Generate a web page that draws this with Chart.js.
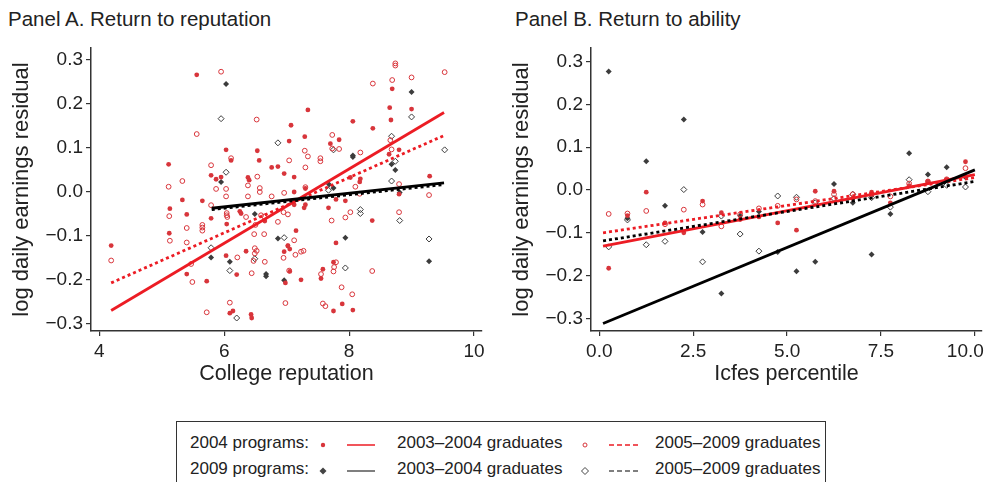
<!DOCTYPE html>
<html>
<head>
<meta charset="utf-8">
<script src="https://cdn.jsdelivr.net/npm/chart.js@4.4.0/dist/chart.umd.min.js"></script>
<style>
  body { margin:0; width:987px; height:482px; overflow:hidden; position:relative; background:#fff;
         font-family:"Liberation Sans", Arial, sans-serif; color:#222; }
  .ptitle { position:absolute; top:7px; font-size:20.5px; white-space:nowrap; }
  #boxA { position:absolute; left:0; top:0; width:493px; height:400px; }
  #boxB { position:absolute; left:500px; top:0; width:510px; height:400px; }
  #legend { position:absolute; left:176px; top:421px; width:650px; height:90px;
            border:1.5px solid #333; box-sizing:border-box; }
  .lg { position:absolute; font-size:17px; white-space:nowrap; line-height:20px; }
  .lgsym { position:absolute; }
</style>
</head>
<body>
<div class="ptitle" style="left:8px">Panel A. Return to reputation</div>
<div class="ptitle" style="left:515px">Panel B. Return to ability</div>
<div id="boxA"><canvas id="chartA"></canvas></div>
<div id="boxB"><canvas id="chartB"></canvas></div>
<div id="legend"></div>
<script>
// ---- Panel A: return to reputation ([college reputation, residual])
var repRed0304 = [[5.56,0.266],[7.04,0.115],[6.03,0.095],[6.53,0.093],[6.11,0.071],[6.56,0.071],[5.11,0.062],
  [6.76,0.055],[6.86,0.057],[6.96,0.041],[5.79,0.037],[5.87,0.028],[5.95,0.033],[6.38,0.032],[6.40,0.026],
  [5.65,-0.021],[5.33,-0.019],[5.13,-0.039],[5.40,-0.052],[6.25,-0.045],[6.27,-0.050],[6.65,-0.067],[5.79,-0.061],
  [6.04,-0.074],[5.12,-0.095],[4.19,-0.123],[6.03,-0.146],[6.20,-0.189],[6.35,-0.136],[6.96,-0.137],[7.02,-0.123],
  [5.40,-0.188],[5.72,-0.204],[6.09,-0.277],[6.14,-0.272],[6.43,-0.280],[6.44,-0.288],[7.89,-0.256],[7.75,-0.272],
  [8.06,-0.270],[7.34,0.186],[8.65,0.191],[9.00,0.188],[8.06,0.160],[8.67,0.163],[7.07,0.151],[8.38,0.144],
  [7.29,0.125],[7.84,0.118],[7.70,0.109],[8.69,0.234],[8.80,0.095],[8.64,0.085],[7.12,0.033],[9.29,0.035],
  [8.02,0.032],[8.18,0.029],[8.17,0.022],[7.12,-0.001],[7.30,0.007],[8.80,-0.006],[7.79,-0.018],[7.94,-0.021],
  [7.30,-0.030],[7.28,-0.037],[7.12,-0.030],[7.67,-0.037],[8.37,-0.066],[7.15,-0.089],[7.79,-0.117],[7.02,-0.124],
  [7.05,-0.131],[7.75,-0.161],[7.58,-0.177],[7.05,-0.182],[7.55,-0.198],[7.23,-0.201],[6.98,-0.208]];
var repRed0509 = [[5.95,0.273],[6.52,0.164],[5.56,0.131],[6.11,0.076],[7.04,0.071],[5.79,0.060],[5.33,0.024],
  [6.53,0.034],[5.11,0.011],[5.87,0.006],[6.03,0.006],[6.38,0.014],[6.57,0.008],[6.57,-0.001],[6.38,-0.011],
  [6.03,-0.011],[5.79,-0.031],[6.76,-0.011],[6.96,-0.003],[5.12,-0.056],[6.04,-0.049],[6.04,-0.054],[6.05,-0.058],
  [6.35,-0.058],[6.59,-0.054],[6.64,-0.057],[6.50,-0.076],[6.86,-0.069],[6.95,-0.047],[5.65,-0.076],[5.65,-0.082],
  [5.65,-0.089],[5.40,-0.083],[5.13,-0.112],[5.40,-0.116],[4.19,-0.157],[6.21,-0.150],[6.49,-0.129],[6.52,-0.135],
  [6.49,-0.141],[6.47,-0.158],[6.65,-0.160],[6.44,-0.186],[6.48,-0.097],[6.64,-0.097],[6.95,-0.151],[7.04,-0.180],
  [6.98,-0.254],[5.49,-0.206],[5.47,-0.165],[5.72,-0.275],[6.09,-0.253],[7.58,-0.255],[7.62,-0.261],[8.74,0.292],
  [8.74,0.287],[9.53,0.272],[9.00,0.260],[8.69,0.254],[8.38,0.246],[7.73,0.129],[8.66,0.117],[7.73,0.098],
  [7.84,0.097],[7.29,0.093],[7.34,0.080],[8.18,0.089],[8.68,0.096],[7.54,0.076],[7.54,0.069],[7.30,0.055],
  [8.10,0.011],[8.80,0.017],[7.30,0.010],[8.17,-0.005],[9.28,-0.008],[7.02,-0.052],[8.02,-0.047],[7.94,-0.059],
  [8.80,-0.047],[7.72,-0.066],[7.12,-0.111],[7.14,-0.144],[7.23,-0.137],[7.27,-0.135],[7.79,-0.161],[7.76,-0.172],
  [7.75,-0.182],[8.37,-0.181],[7.55,-0.188],[7.88,-0.218],[8.05,-0.234]];
var repBlk0304 = [[6.03,0.245],[5.95,0.022],[6.49,-0.051],[5.79,-0.150],[6.09,-0.160],[6.67,-0.188],[6.67,-0.193],
  [6.86,-0.107],[6.96,-0.202],[9.00,0.227],[8.06,0.082],[8.06,0.079],[8.68,0.062],[8.74,0.049],[7.68,0.016],
  [7.75,0.008],[8.81,-0.002],[7.94,-0.105],[9.28,-0.159]];
var repBlk0509 = [[5.95,0.166],[6.86,0.111],[6.03,0.044],[5.79,-0.128],[6.09,-0.180],[6.20,-0.288],[6.49,-0.153],
  [6.96,-0.105],[9.00,0.170],[8.68,0.126],[7.75,0.095],[9.53,0.095],[8.74,0.069],[8.68,0.024],[7.67,0.003],
  [8.18,-0.041],[8.18,-0.050],[8.81,-0.066],[9.28,-0.108],[7.94,-0.174]];
// fitted lines (start / end)
var repFitRed0304 = [[4.19,-0.271],[9.52,0.180]];
var repFitRed0509 = [[4.19,-0.208],[9.51,0.127]];
var repFitBlk0304 = [[5.80,-0.038],[9.52,0.020]];
var repFitBlk0509 = [[5.80,-0.041],[9.52,0.016]];
var repXTicks = [4, 6, 8, 10];
var repXLabels = ['4', '6', '8', '10'];

// ---- Panel B: return to ability (percentile bins)
var ablBins = [0.25,0.75,1.25,1.75,2.25,2.75,3.25,3.75,4.25,4.75,5.25,5.75,6.25,6.75,7.25,7.75,8.25,8.75,9.25,9.75];
var ablRed0304 = [-0.183,-0.060,-0.005,-0.077,-0.100,-0.026,-0.053,-0.069,-0.063,-0.077,-0.094,-0.003,-0.003,-0.020,-0.005,-0.030,0.010,0.020,0.025,0.066];
var ablRed0509 = [-0.056,-0.055,-0.049,-0.080,-0.046,-0.034,-0.085,-0.057,-0.043,-0.037,-0.022,-0.026,-0.010,-0.010,-0.010,-0.015,0.015,0.020,0.025,0.051];
var ablBlk0304 = [0.277,-0.066,0.067,-0.037,0.165,-0.098,-0.242,-0.060,-0.050,-0.145,-0.190,-0.168,0.014,-0.030,-0.151,-0.056,0.086,0.036,0.053,0.030];
var ablBlk0509 = [-0.133,-0.070,-0.128,-0.120,0.001,-0.168,-0.061,-0.103,-0.143,-0.014,-0.017,-0.030,-0.020,-0.010,-0.018,-0.040,0.024,-0.004,0.011,0.007];
var ablFitRed0304 = [[0.1,-0.131],[10.0,0.036]];
var ablFitRed0509 = [[0.1,-0.100],[10.0,0.029]];
var ablFitBlk0304 = [[0.1,-0.312],[10.0,0.047]];
var ablFitBlk0509 = [[0.1,-0.119],[10.0,0.020]];
var ablXTicks = [0, 2.5, 5, 7.5, 10];
var ablXLabels = ['0.0', '2.5', '5.0', '7.5', '10.0\u2002\u2002'];  // last label sits a bit left, as in the original

var yTicks = [-0.3, -0.2, -0.1, 0, 0.1, 0.2, 0.3];
var yLabels = ['\u22120.3', '\u22120.2', '\u22120.1', '0.0', '0.1', '0.2', '0.3'];

var RED = '#ec1c24', REDPT = '#d8353b', BLK = '#000', BLKPT = '#3c3c3c', TXT = '#222';
var FONT = '"Liberation Sans", Arial, sans-serif';

function pts(pairs) { return pairs.map(function(p){ return {x:p[0], y:p[1]}; }); }
function binPts(ys) { return ys.map(function(v,i){ return {x:ablBins[i], y:v}; }); }

function pointSet(data, style, filled, color, r) {
  return { type:'scatter', data:data, order:2, pointStyle:style, pointRadius:r, pointHoverRadius:r,
           backgroundColor: filled ? color : 'rgba(0,0,0,0)', borderColor:color,
           borderWidth: filled ? 0 : 1 };
}
function fitLine(data, color, dashed) {
  return { type:'line', data:data, order:1, borderColor:color, borderWidth:2.8, pointRadius:0,
           borderDash: dashed ? [3,3] : [], fill:false, tension:0 };
}

function makePanel(id, datasets, xr, xTicks, xLabels, xTitle, yr, padRight) {
  return new Chart(document.getElementById(id), {
    type:'scatter',
    data:{ datasets:datasets },
    options:{
      responsive:true, maintainAspectRatio:false, animation:false,
      layout:{ padding:{ left:0, top:48, right:padRight, bottom:0 } },
      plugins:{ legend:{display:false}, tooltip:{enabled:false} },
      scales:{
        x:{ type:'linear', min:xr[0], max:xr[1],
            afterBuildTicks:function(s){ s.ticks = xTicks.map(function(v){ return {value:v}; }); },
            afterFit:function(s){ s.height = 69; },
            ticks:{ color:TXT, font:{family:FONT, size:19}, padding:4, maxRotation:0,
                    callback:function(v){ return xLabels[xTicks.indexOf(v)]; } },
            grid:{ drawOnChartArea:false, drawTicks:true, tickLength:5, color:'#333', lineWidth:1.2 },
            border:{ display:true, color:'#333', width:1.5 },
            title:{ display:true, text:xTitle, color:TXT, font:{family:FONT, size:21.5}, padding:{top:0, bottom:13} } },
        y:{ type:'linear', min:yr[0], max:yr[1],
            afterBuildTicks:function(s){ s.ticks = yTicks.map(function(v){ return {value:v}; }); },
            afterFit:function(s){ s.width = 91; },
            ticks:{ color:TXT, font:{family:FONT, size:19}, padding:3,
                    callback:function(v){ return yLabels[yTicks.indexOf(v)]; } },
            grid:{ drawOnChartArea:false, drawTicks:true, tickLength:5, color:'#333', lineWidth:1.2 },
            border:{ display:true, color:'#333', width:1.5 },
            title:{ display:true, text:'log daily earnings residual', color:TXT, font:{family:FONT, size:22}, padding:{top:9, bottom:0} } }
      }
    }
  });
}

makePanel('chartA', [
  pointSet(pts(repRed0509), 'circle', false, REDPT, 2.4),
  pointSet(pts(repRed0304), 'circle', true, REDPT, 2.4),
  pointSet(pts(repBlk0509), 'rectRot', false, BLKPT, 3),
  pointSet(pts(repBlk0304), 'rectRot', true, BLKPT, 3),
  fitLine(pts(repFitBlk0509), BLK, true),
  fitLine(pts(repFitBlk0304), BLK, false),
  fitLine(pts(repFitRed0509), RED, true),
  fitLine(pts(repFitRed0304), RED, false)
], [3.867, 10.128], repXTicks, repXLabels, 'College reputation', [-0.3176, 0.327], 11);

makePanel('chartB', [
  pointSet(binPts(ablRed0509), 'circle', false, REDPT, 2.4),
  pointSet(binPts(ablRed0304), 'circle', true, REDPT, 2.4),
  pointSet(binPts(ablBlk0509), 'rectRot', false, BLKPT, 3),
  pointSet(binPts(ablBlk0304), 'rectRot', true, BLKPT, 3),
  fitLine(pts(ablFitBlk0509), BLK, true),
  fitLine(pts(ablFitBlk0304), BLK, false),
  fitLine(pts(ablFitRed0509), RED, true),
  fitLine(pts(ablFitRed0304), RED, false)
], [-0.221, 10.19], ablXTicks, ablXLabels, 'Icfes percentile', [-0.3297, 0.332], 28);

// ---- legend (HTML)
var legendRows = ['2004 programs:', '2009 programs:'];
var legendSeries = ['2003\u20132004 graduates', '2005\u20132009 graduates'];
var legendColors = [REDPT, '#444'];
var legendLineColors = ['#ec1c24', '#555'];
(function(){
  var lg = document.getElementById('legend');
  var rowY = [21, 47];   // centre of each row inside the box
  legendRows.forEach(function(label, r) {
    var cy = rowY[r];
    function txt(x, s) {
      var d = document.createElement('div'); d.className = 'lg';
      d.style.left = x + 'px'; d.style.top = (cy - 10) + 'px'; d.textContent = s; lg.appendChild(d);
    }
    function svg(x, w, inner) {
      var d = document.createElement('div'); d.className = 'lgsym';
      d.style.left = x + 'px'; d.style.top = (cy - 6) + 'px';
      d.innerHTML = '<svg width="' + w + '" height="12">' + inner + '</svg>'; lg.appendChild(d);
    }
    var c = legendColors[r], lc = legendLineColors[r];
    txt(13, label);
    var filled = r === 0 ? '<circle cx="6" cy="6" r="2.2" fill="' + c + '"/>'
                         : '<polygon points="6,2.5 9.5,6 6,9.5 2.5,6" fill="' + c + '"/>';
    var open = r === 0 ? '<circle cx="6" cy="6" r="2" fill="none" stroke="' + c + '" stroke-width="1"/>'
                       : '<polygon points="6,2.5 9.5,6 6,9.5 2.5,6" fill="none" stroke="' + c + '" stroke-width="1"/>';
    svg(140, 12, filled);
    svg(170, 30, '<line x1="0" y1="6" x2="28" y2="6" stroke="' + lc + '" stroke-width="1.5"/>');
    txt(220, legendSeries[0]);
    svg(402, 12, open);
    svg(432, 32, '<line x1="0" y1="6" x2="29" y2="6" stroke="' + lc + '" stroke-width="1.5" stroke-dasharray="5,3"/>');
    txt(478, legendSeries[1]);
  });
})();
</script>
</body>
</html>
